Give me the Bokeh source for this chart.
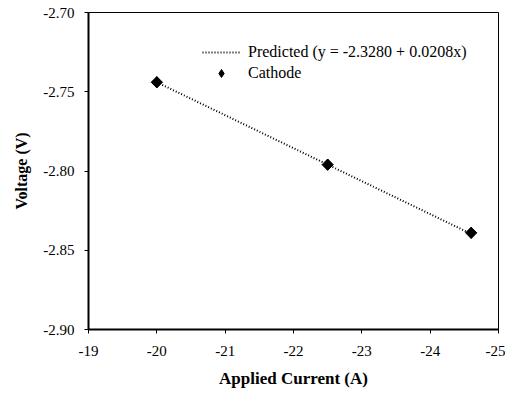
import math
from bokeh.plotting import figure
from bokeh.models import Range1d, Legend, LegendItem, FixedTicker
from bokeh.embed import file_html
from bokeh.resources import INLINE

# data
current = [-20.0, -22.5, -24.6]
voltage = [-2.744, -2.796, -2.839]
pred_x = [-20.0, -24.6]
intercept = -2.3280
slope = 0.0208
pred_y = [intercept + slope * x for x in pred_x]
x_ticks = [-19, -20, -21, -22, -23, -24, -25]
x_tick_labels = ["-19", "-20", "-21", "-22", "-23", "-24", "-25"]
y_ticks = [-2.90, -2.85, -2.80, -2.75, -2.70]
y_tick_labels = ["-2.90", "-2.85", "-2.80", "-2.75", "-2.70"]
pred_label = "Predicted (y = -2.3280 + 0.0208x)"
obs_label = "Cathode"

FONT = "Liberation Serif"

p = figure(width=505, height=390, output_backend="svg", toolbar_location=None,
           x_range=Range1d(-19, -25), y_range=Range1d(-2.90, -2.70),
           min_border_left=88, min_border_right=7, min_border_top=12, min_border_bottom=60)
p.background_fill_color = "white"
p.border_fill_color = "white"
p.outline_line_color = "black"
p.outline_line_width = 1
p.xgrid.visible = False
p.ygrid.visible = False

for ax in (p.xaxis, p.yaxis):
    ax.axis_line_color = "black"
    ax.axis_line_width = 2
    ax.major_tick_line_color = "black"
    ax.major_tick_in = 0
    ax.major_tick_out = 4
    ax.minor_tick_line_color = None
    ax.major_label_text_font = FONT
    ax.major_label_text_font_size = "15px"
    ax.major_label_text_color = "black"
    ax.axis_label_text_font = FONT
    ax.axis_label_text_font_style = "bold"
    ax.axis_label_text_color = "black"

p.xaxis.axis_label_text_font_size = "17px"
p.yaxis.axis_label_text_font_size = "16px"
p.xaxis.ticker = FixedTicker(ticks=x_ticks)
p.yaxis.ticker = FixedTicker(ticks=y_ticks)
p.xaxis.major_label_overrides = {t: l for t, l in zip(x_ticks, x_tick_labels)}
p.yaxis.major_label_overrides = {t: l for t, l in zip(y_ticks, y_tick_labels)}
p.xaxis.axis_label = "Applied Current (A)"
p.yaxis.axis_label = "Voltage (V)"
p.xaxis.major_label_standoff = 12
p.yaxis.major_label_standoff = 10
p.xaxis.axis_label_standoff = 10
p.yaxis.axis_label_standoff = 10

r_line = p.line(pred_x, pred_y, line_color="black", line_width=2, line_dash="1 2")
p.scatter(current, voltage, marker="square", size=8, angle=math.pi / 4,
          fill_color="black", line_color="black")
r_pts = p.scatter(current, voltage, marker="diamond", size=11,
                  fill_color="black", line_color="black")

legend = Legend(items=[LegendItem(label=pred_label, renderers=[r_line]),
                       LegendItem(label=obs_label, renderers=[r_pts])],
                location=(114, 246), padding=0, spacing=1, margin=0,
                label_height=20, glyph_height=20, glyph_width=38, label_standoff=8,
                border_line_color=None, background_fill_alpha=0,
                label_text_font=FONT, label_text_font_size="16px", label_text_color="black")
p.add_layout(legend, "center")

open("out.html", "w").write(file_html(p, INLINE))
